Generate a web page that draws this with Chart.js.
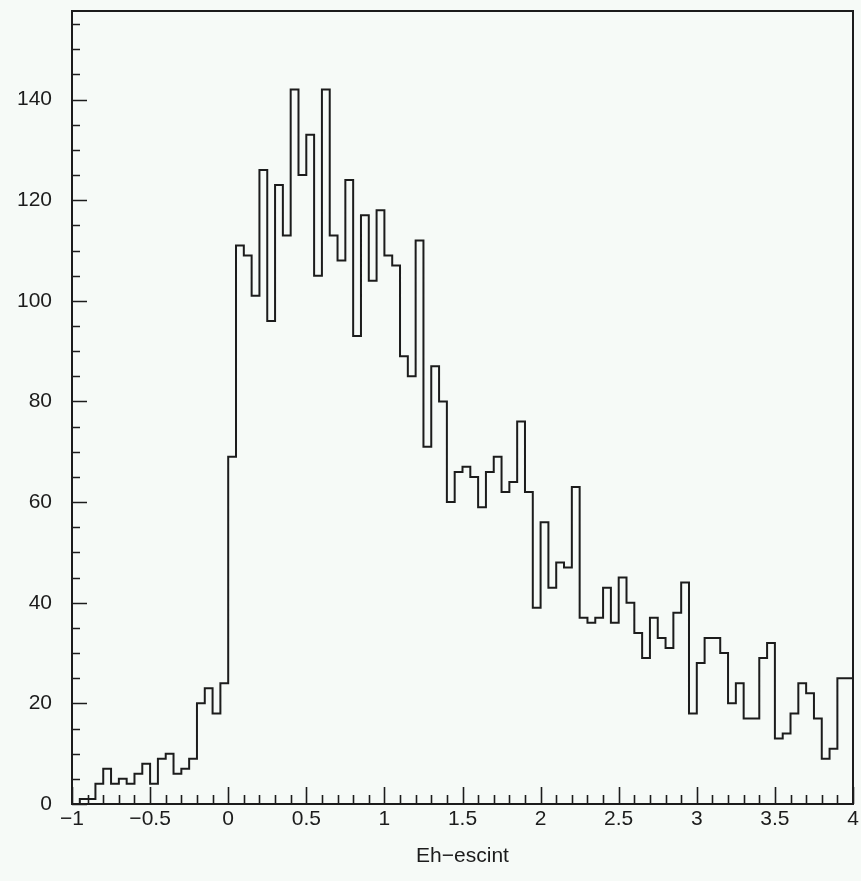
<!DOCTYPE html>
<html>
<head>
<meta charset="utf-8">
<title>Eh-escint</title>
<script src="https://cdn.jsdelivr.net/npm/chart.js@4.4.1/dist/chart.umd.min.js"></script>
<style>
  html, body { margin: 0; padding: 0; background: #f6faf7; }
  #wrap { width: 861px; height: 881px; position: relative; }
</style>
</head>
<body>
<div id="wrap"><canvas id="chart-hist"></canvas></div>
<script>
// histogram bins: 100 bins of 0.05 from -1 to 4
const BIN_START = -1;
const BIN_WIDTH = 0.05;
const COUNTS = [
  4, 0, 1, 1, 4, 7, 4, 5, 4, 6,
  8, 4, 9, 10, 6, 7, 9, 20, 23, 18,
  24, 69, 111, 109, 101, 126, 96, 123, 113, 142,
  125, 133, 105, 142, 113, 108, 124, 93, 117, 104,
  118, 109, 107, 89, 85, 112, 71, 87, 80, 60,
  66, 67, 65, 59, 66, 69, 62, 64, 76, 62,
  39, 56, 43, 48, 47, 63, 37, 36, 37, 43,
  36, 45, 40, 34, 29, 37, 33, 31, 38, 44,
  18, 28, 33, 33, 30, 20, 24, 17, 17, 29,
  32, 13, 14, 18, 24, 22, 17, 9, 11, 25
];

const X_TICKS = [-1, -0.5, 0, 0.5, 1, 1.5, 2, 2.5, 3, 3.5, 4];
const X_MINOR_STEP = 0.1;
const Y_TICKS = [0, 20, 40, 60, 80, 100, 120, 140];
const Y_MINOR_STEP = 5;
const Y_MAX = 157.6;
const X_TITLE = "Eh\u2212escint";

const LINE_COLOR = "#1c1c1c";
const FONT = { family: "'Liberation Sans', Arial, sans-serif", size: 21 };

// outline points for a stepped line
const xEnd = BIN_START + COUNTS.length * BIN_WIDTH;
const outline = [{ x: BIN_START, y: 0 }];
COUNTS.forEach((c, i) => {
  outline.push({ x: BIN_START + i * BIN_WIDTH, y: c });
});
outline.push({ x: xEnd, y: COUNTS[COUNTS.length - 1] });
outline.push({ x: xEnd, y: 0 });

function fmt(v) {
  const s = String(v);
  return v < 0 ? "\u2212" + s.slice(1) : s;
}

// frame and inward ticks (major + minor), positioned by the chart scales
const frameTicks = {
  id: "frameTicks",
  afterDatasetsDraw(chart) {
    const { ctx, chartArea: a, scales } = chart;
    const xs = scales.x;
    const ys = scales.y;
    ctx.save();
    ctx.strokeStyle = LINE_COLOR;
    ctx.lineWidth = 2;
    ctx.strokeRect(a.left, a.top, a.right - a.left, a.bottom - a.top);

    ctx.lineWidth = 1.6;
    ctx.beginPath();
    const nx = Math.round((xs.max - xs.min) / X_MINOR_STEP);
    for (let k = 0; k <= nx; k++) {
      const v = xs.min + k * X_MINOR_STEP;
      const major = X_TICKS.some((t) => Math.abs(t - v) < 1e-6);
      const px = Math.round(xs.getPixelForValue(v)) + 0.5;
      ctx.moveTo(px, a.bottom);
      ctx.lineTo(px, a.bottom - (major ? 17 : 9));
    }
    const ny = Math.floor(Y_MAX / Y_MINOR_STEP);
    for (let k = 0; k <= ny; k++) {
      const v = k * Y_MINOR_STEP;
      const major = Y_TICKS.includes(v);
      const py = Math.round(ys.getPixelForValue(v)) + 0.5;
      ctx.moveTo(a.left, py);
      ctx.lineTo(a.left + (major ? 15 : 8), py);
    }
    ctx.stroke();
    ctx.restore();
  },
};

const chartHist = new Chart(document.getElementById("chart-hist"), {
  type: "line",
  data: {
    datasets: [
      {
        label: "Eh-escint",
        data: outline,
        stepped: "after",
        borderColor: LINE_COLOR,
        borderWidth: 2,
        pointRadius: 0,
        fill: false,
      },
    ],
  },
  options: {
    responsive: true,
    maintainAspectRatio: false,
    animation: false,
    layout: {
      padding: { top: 11, right: 8, bottom: 0, left: 0 },
    },
    plugins: {
      legend: { display: false },
      tooltip: { enabled: false },
    },
    scales: {
      x: {
        type: "linear",
        min: BIN_START,
        max: xEnd,
        grid: { display: false, drawTicks: false },
        border: { display: false },
        afterBuildTicks: (scale) => {
          scale.ticks = X_TICKS.map((v) => ({ value: v }));
        },
        afterFit: (scale) => {
          scale.height = 77;
          scale.paddingLeft = 0;
          scale.paddingRight = 0;
        },
        ticks: {
          color: LINE_COLOR,
          font: FONT,
          padding: 3,
          maxRotation: 0,
          autoSkip: false,
          callback: (v) => fmt(v),
        },
        title: {
          display: true,
          text: X_TITLE,
          color: LINE_COLOR,
          font: FONT,
          padding: { top: 10, bottom: 12 },
        },
      },
      y: {
        min: 0,
        max: Y_MAX,
        grid: { display: false, drawTicks: false },
        border: { display: false },
        afterBuildTicks: (scale) => {
          scale.ticks = Y_TICKS.map((v) => ({ value: v }));
        },
        afterFit: (scale) => {
          scale.width = 72;
          scale.paddingTop = 0;
          scale.paddingBottom = 0;
        },
        ticks: {
          color: LINE_COLOR,
          font: FONT,
          padding: 20,
          autoSkip: false,
          callback: (v) => fmt(v),
        },
      },
    },
  },
  plugins: [frameTicks],
});
</script>
</body>
</html>
